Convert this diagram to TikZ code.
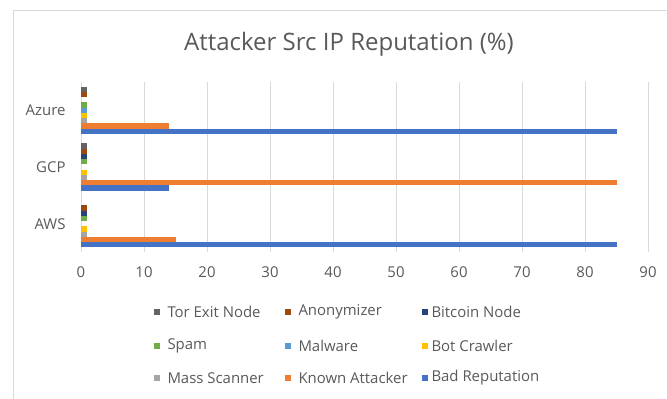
\documentclass[tikz,border=0pt]{standalone}
\usepackage{fontspec}
\setmainfont{Open Sans}
\definecolor{txtgray}{HTML}{595959}
\definecolor{gridgray}{HTML}{D9D9D9}
\definecolor{cTor}{HTML}{636363}
\definecolor{cAnon}{HTML}{9E480E}
\definecolor{cBtc}{HTML}{264478}
\definecolor{cSpam}{HTML}{70AD47}
\definecolor{cMal}{HTML}{5B9BD5}
\definecolor{cBot}{HTML}{FFC000}
\definecolor{cMass}{HTML}{A5A5A5}
\definecolor{cKnown}{HTML}{ED7D31}
\definecolor{cBad}{HTML}{4472C4}
\tikzset{every picture/.style={line width=0.75pt}}
\tikzset{
  gridline/.style={draw=gridgray},
  lbl/.style={inner sep=0.75pt,text=txtgray,font=\fontsize{11.2}{13}\selectfont},
}
\begin{document}
\begin{tikzpicture}[x=0.75pt,y=0.75pt,yscale=-1,xscale=1]
\useasboundingbox (0,0) rectangle (667,399);

%Chart border
\draw [gridgray]  (13,399) -- (13,11) -- (667,11) ;

%Straight Lines: gridlines
\draw [gridline]  (81,82) -- (81,252) ;
\draw [gridline]  (144,82) -- (144,252) ;
\draw [gridline]  (207,82) -- (207,252) ;
\draw [gridline]  (270,82) -- (270,252) ;
\draw [gridline]  (333,82) -- (333,252) ;
\draw [gridline]  (396,82) -- (396,252) ;
\draw [gridline]  (459,82) -- (459,252) ;
\draw [gridline]  (522,82) -- (522,252) ;
\draw [gridline]  (585,82) -- (585,252) ;
\draw [gridline]  (648,82) -- (648,252) ;

%Bars: Azure
\fill [cTor]   (81,86.8) rectangle (87.3,92.0) ;
\fill [cAnon]  (81,92.0) rectangle (87.3,97.2) ;
\fill [cSpam]  (81,102.5) rectangle (87.3,107.7) ;
\fill [cMal]   (81,107.7) rectangle (87.3,113.0) ;
\fill [cBot]   (81,113.0) rectangle (87.3,118.2) ;
\fill [cMass]  (81,118.2) rectangle (87.3,123.4) ;
\fill [cKnown] (81,123.4) rectangle (169.2,128.7) ;
\fill [cBad]   (81,128.7) rectangle (616.5,133.9) ;
%Bars: GCP
\fill [cTor]   (81,143.4) rectangle (87.3,148.7) ;
\fill [cAnon]  (81,148.7) rectangle (87.3,153.9) ;
\fill [cBtc]   (81,153.9) rectangle (87.3,159.1) ;
\fill [cSpam]  (81,159.1) rectangle (87.3,164.4) ;
\fill [cBot]   (81,169.6) rectangle (87.3,174.9) ;
\fill [cMass]  (81,174.9) rectangle (87.3,180.1) ;
\fill [cKnown] (81,180.1) rectangle (616.5,185.3) ;
\fill [cBad]   (81,185.3) rectangle (169.2,190.6) ;
%Bars: AWS
\fill [cAnon]  (81,205.3) rectangle (87.3,210.6) ;
\fill [cBtc]   (81,210.6) rectangle (87.3,215.8) ;
\fill [cSpam]  (81,215.8) rectangle (87.3,221.1) ;
\fill [cBot]   (81,226.3) rectangle (87.3,231.5) ;
\fill [cMass]  (81,231.5) rectangle (87.3,236.8) ;
\fill [cKnown] (81,236.8) rectangle (175.5,242.0) ;
\fill [cBad]   (81,242.0) rectangle (616.5,247.3) ;

% Text Node: title
\draw (349,44) node [inner sep=0.75pt,text=txtgray,font=\fontsize{18}{21}\selectfont] (title) {Attacker Src IP Reputation (\%)};

% Text Node: categories
\draw (67,110.3) node [lbl,anchor=east] (azure) {Azure};
\draw (67,167) node [lbl,anchor=east] (gcp) {GCP};
\draw (67,223.7) node [lbl,anchor=east] (aws) {AWS};

% Text Node: value axis
\draw (81,272) node [lbl] (t0) {0};
\draw (144,272) node [lbl] (t10) {10};
\draw (207,272) node [lbl] (t20) {20};
\draw (270,272) node [lbl] (t30) {30};
\draw (333,272) node [lbl] (t40) {40};
\draw (396,272) node [lbl] (t50) {50};
\draw (459,272) node [lbl] (t60) {60};
\draw (522,272) node [lbl] (t70) {70};
\draw (585,272) node [lbl] (t80) {80};
\draw (648,272) node [lbl] (t90) {90};

%Legend
\fill [cTor]   (154,309) rectangle (160,315) ;
\draw (166,312) node [lbl,anchor=west] (lgTor) {Tor Exit Node};
\fill [cAnon]  (285,309) rectangle (291,315) ;
\draw (297,312) node [lbl,anchor=west] (lgAnon) {Anonymizer};
\fill [cBtc]   (422,309) rectangle (428,315) ;
\draw (430,312) node [lbl,anchor=west] (lgBtc) {Bitcoin Node};
\fill [cSpam]  (154,343) rectangle (160,349) ;
\draw (166,346) node [lbl,anchor=west] (lgSpam) {Spam};
\fill [cMal]   (285,343) rectangle (291,349) ;
\draw (297,346) node [lbl,anchor=west] (lgMal) {Malware};
\fill [cBot]   (422,343) rectangle (428,349) ;
\draw (430,346) node [lbl,anchor=west] (lgBot) {Bot Crawler};
\fill [cMass]  (154,375) rectangle (160,381) ;
\draw (166,378) node [lbl,anchor=west] (lgMass) {Mass Scanner};
\fill [cKnown] (285,375) rectangle (291,381) ;
\draw (297,378) node [lbl,anchor=west] (lgKnown) {Known Attacker};
\fill [cBad]   (422,375) rectangle (428,381) ;
\draw (430,378) node [lbl,anchor=west] (lgBad) {Bad Reputation};

\end{tikzpicture}
\end{document}
